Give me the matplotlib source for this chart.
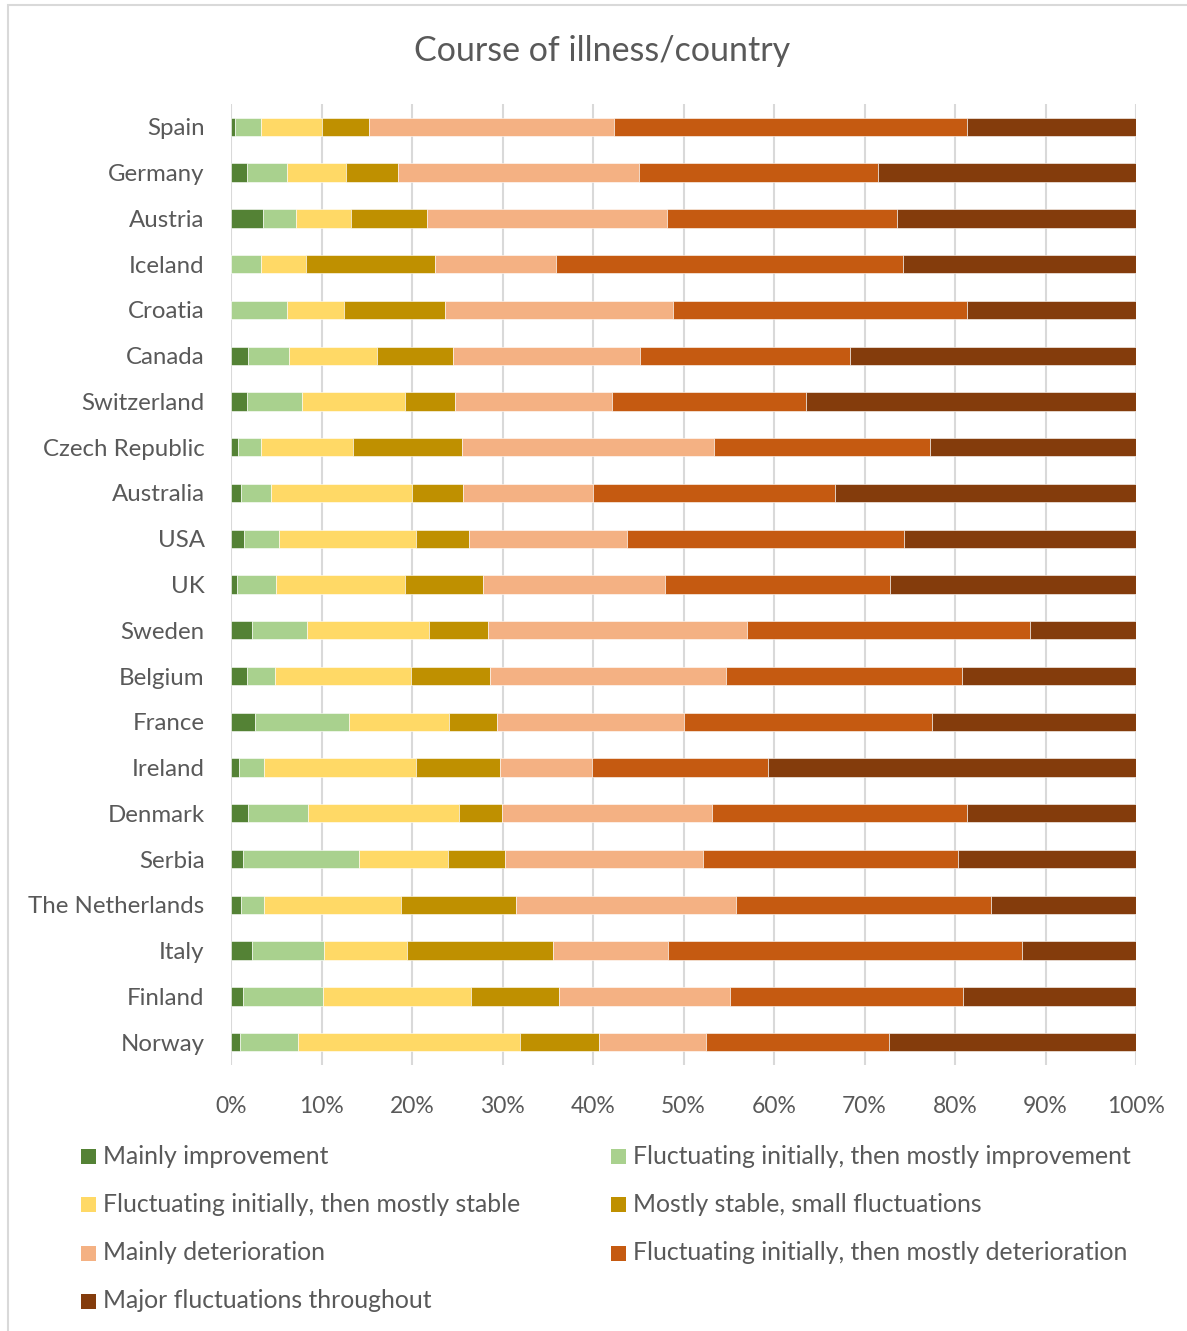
import matplotlib
matplotlib.use("Agg")
import matplotlib.pyplot as plt
from matplotlib.patches import Rectangle

# paises de arriba hacia abajo
countries = ["Spain", "Germany", "Austria", "Iceland", "Croatia", "Canada",
             "Switzerland", "Czech Republic", "Australia", "USA", "UK", "Sweden",
             "Belgium", "France", "Ireland", "Denmark", "Serbia",
             "The Netherlands", "Italy", "Finland", "Norway"]

series_names = ["Mainly improvement",
                "Fluctuating initially, then mostly improvement",
                "Fluctuating initially, then mostly stable",
                "Mostly stable, small fluctuations",
                "Mainly deterioration",
                "Fluctuating initially, then mostly deterioration",
                "Major fluctuations throughout"]

mainly_improvement = [0.44, 1.8, 3.5, 0.0, 0.0, 1.9, 1.8, 0.77, 1.07, 1.4, 0.66,
                      2.3, 1.8, 2.6, 0.89, 1.9, 1.37, 1.07, 2.3, 1.33, 0.96]
fluct_improvement = [2.86, 4.4, 3.7, 3.3, 6.2, 4.5, 6.1, 2.53, 3.33, 3.95, 4.34,
                     6.1, 3.1, 10.4, 2.76, 6.6, 12.73, 2.58, 8.0, 8.87, 6.44]
fluct_stable = [6.8, 6.5, 6.1, 5.0, 6.3, 9.7, 11.3, 10.2, 15.6, 15.05, 14.2,
                13.5, 15.0, 11.1, 16.75, 16.7, 9.9, 15.15, 9.2, 16.3, 24.5]
mostly_stable = [5.2, 5.7, 8.4, 14.2, 11.2, 8.4, 5.6, 12.0, 5.6, 5.9, 8.7,
                 6.5, 8.7, 5.3, 9.3, 4.7, 6.3, 12.7, 16.1, 9.7, 8.8]
mainly_deterioration = [27.0, 26.7, 26.5, 13.4, 25.1, 20.7, 17.3, 27.9, 14.4, 17.5, 20.1,
                        28.6, 26.1, 20.6, 10.2, 23.2, 21.9, 24.3, 12.7, 18.9, 11.8]
fluct_deterioration = [39.0, 26.4, 25.4, 38.4, 32.5, 23.2, 21.4, 23.8, 26.7, 30.6, 24.8,
                       31.3, 26.1, 27.5, 19.4, 28.2, 28.1, 28.2, 39.1, 25.8, 20.2]
major_fluct = [18.7, 28.5, 26.4, 25.7, 18.7, 31.6, 36.5, 22.8, 33.3, 25.6, 27.2,
               11.7, 19.2, 22.5, 40.7, 18.7, 19.7, 16.0, 12.6, 19.1, 27.3]

colors = ["#548235", "#A9D18E", "#FFD966", "#BF9000", "#F4B183", "#C55A11", "#843C0C"]
TEXT = "#595959"

plt.rcParams["font.family"] = ["Lato", "DejaVu Sans"]

W, H = 1187, 1331
fig = plt.figure(figsize=(W / 100, H / 100), dpi=100)

# borde gris del area del grafico
fig.patches.append(Rectangle((8 / W, -0.01), 1.1, (1331 - 5) / H + 0.01,
                             transform=fig.transFigure, fill=False,
                             edgecolor="#D9D9D9", linewidth=1.5))

ax = fig.add_axes([231 / W, (H - 1065) / H, (1136 - 231) / W, (1065 - 104) / H])

all_series = [mainly_improvement, fluct_improvement, fluct_stable, mostly_stable,
              mainly_deterioration, fluct_deterioration, major_fluct]

# normalizar a 100% por pais
totals = [sum(s[i] for s in all_series) for i in range(len(countries))]
ypos = list(range(len(countries)))
left = [0.0] * len(countries)
for vals, col, name in zip(all_series, colors, series_names):
    pct = [v / t for v, t in zip(vals, totals)]
    ax.barh(ypos, pct, left=left, height=0.4, color=col, label=name,
            edgecolor="white", linewidth=0.4, zorder=3)
    left = [l + p for l, p in zip(left, pct)]

ax.set_xlim(0, 1)
ax.set_ylim(len(countries) - 0.5, -0.5)
ax.set_yticks(ypos)
ax.set_yticklabels(countries)
ax.set_xticks([i / 10 for i in range(11)])
ax.set_xticklabels([f"{i * 10}%" for i in range(11)])
ax.tick_params(axis="both", length=0, colors=TEXT)
ax.tick_params(axis="y", pad=19, labelsize=17.3)
ax.tick_params(axis="x", pad=22, labelsize=16.5)
ax.xaxis.grid(True, color="#D9D9D9", linewidth=1.5, zorder=0)
for s in ax.spines.values():
    s.set_visible(False)

fig.text(602 / W, 1 - 51 / H, "Course of illness/country", ha="center", va="center",
         fontsize=24.5, color=TEXT)

# leyenda manual en dos columnas
col_x = [81, 611]
row_y = [1156, 1204, 1253, 1301]
for i, (name, col) in enumerate(zip(series_names, colors)):
    x = col_x[i % 2]
    y = row_y[i // 2]
    fig.patches.append(Rectangle((x / W, 1 - (y + 7.5) / H), 15 / W, 15 / H,
                                 transform=fig.transFigure, facecolor=col,
                                 edgecolor="none"))
    fig.text((x + 22) / W, 1 - y / H, name, ha="left", va="center",
             fontsize=17.8, color=TEXT)

fig.savefig("out.png", dpi=100)
